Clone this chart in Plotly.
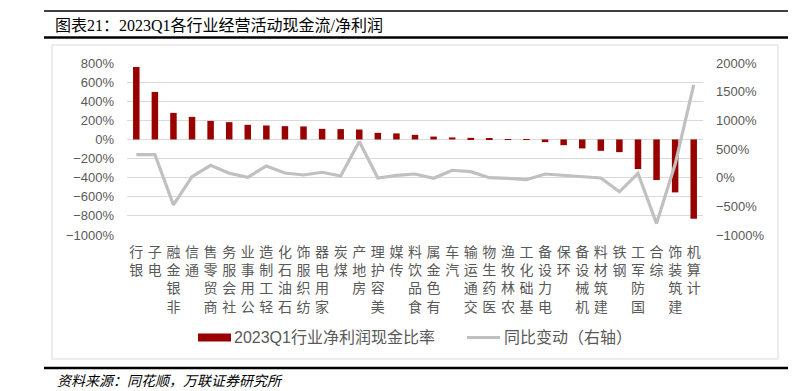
import plotly.graph_objects as go

categories = ["银行", "电子", "非银金融", "通信", "商贸零售", "社会服务", "公用事业", "轻工制造",
              "石油石化", "纺织服饰", "家用电器", "煤炭", "房地产", "美容护理", "传媒", "食品饮料",
              "有色金属", "汽车", "交通运输", "医药生物", "农林牧渔", "基础化工", "电力设备", "环保",
              "机械设备", "建筑材料", "钢铁", "国防军工", "综合", "建筑装饰", "计算机"]
ratio_2023q1 = [758, 497, 278, 236, 194, 181, 153, 146, 139, 136, 111, 108, 104, 69, 63, 48,
                30, 21, 17, 5, 3, 2, -28, -60, -94, -119, -133, -310, -425, -554, -830]
yoy_change = [403, 403, -474, 18, 216, 76, 6, 205, 82, 47, 94, 29, 632, -6, 41, 64,
              -10, 129, 105, 0, -12, -35, 64, 41, 29, -6, -246, 76, -801, 234, 1620]
left_ticks = list(range(-1000, 801, 200))
right_ticks = list(range(-1000, 2001, 500))

W, H = 809, 391
L, R, T, B = 127, 703, 63, 235


def px(x):
    return (x - L) / (R - L)


def py(y):
    return (B - y) / (B - T)


tick_text = ["<br>".join(reversed(list(c))) for c in categories]

fig = go.Figure()
fig.add_trace(go.Bar(x=categories, y=ratio_2023q1, marker=dict(color="#990000", line_width=0),
                     name="2023Q1行业净利润现金比率", yaxis="y", showlegend=False))
fig.add_trace(go.Scatter(x=categories, y=yoy_change, mode="lines",
                         line=dict(color="#c0c0c0", width=3.2),
                         name="同比变动（右轴）", yaxis="y2", showlegend=False))

sans = "Liberation Sans, Arial, Noto Sans CJK SC"
serif = "Liberation Serif, Times New Roman, Noto Sans CJK SC"

shapes = []


def hline(y, x0, x1, w, color="black"):
    shapes.append(dict(type="line", xref="paper", yref="paper", x0=px(x0), x1=px(x1),
                       y0=py(y), y1=py(y), line=dict(color=color, width=w)))


hline(11, 44, 788, 1.6)
hline(37.5, 44, 788, 2.4)
hline(368, 44, 788, 2.4)
shapes.append(dict(type="rect", xref="paper", yref="paper", x0=px(52), x1=px(778),
                   y0=py(359), y1=py(45), line=dict(color="#d9d9d9", width=1), layer="below"))
shapes.append(dict(type="rect", xref="paper", yref="paper", x0=px(198), x1=px(231),
                   y0=py(341.5), y1=py(333.5), fillcolor="#990000", line_width=0))
hline(337.5, 467, 500, 3.2, "#c0c0c0")

annotations = [
    dict(text="图表21：2023Q1各行业经营活动现金流/净利润", xref="paper", yref="paper",
         x=px(53), y=py(25), xanchor="left", yanchor="middle", showarrow=False,
         font=dict(family=serif, size=16, color="black")),
    dict(text="资料来源：同花顺，万联证券研究所", xref="paper", yref="paper",
         x=px(55), y=py(381), xanchor="left", yanchor="middle", showarrow=False,
         font=dict(family=serif, size=14, color="black", style="italic")),
    dict(text="2023Q1行业净利润现金比率", xref="paper", yref="paper",
         x=px(232), y=py(337.5), xanchor="left", yanchor="middle", showarrow=False,
         font=dict(family=sans, size=16, color="#595959")),
    dict(text="同比变动（右轴）", xref="paper", yref="paper",
         x=px(502), y=py(337.5), xanchor="left", yanchor="middle", showarrow=False,
         font=dict(family=sans, size=16, color="#595959")),
]

fig.update_layout(
    width=W, height=H,
    margin=dict(l=L, r=W - R, t=T, b=H - B, pad=0),
    paper_bgcolor="white", plot_bgcolor="white",
    bargap=0.65,
    showlegend=False,
    font=dict(family=sans, color="#595959"),
    xaxis=dict(tickmode="array", tickvals=categories, ticktext=tick_text, tickangle=0,
               tickfont=dict(size=14, color="#595959", family="Noto Sans CJK SC"),
               showgrid=False, showline=False, zeroline=False, ticks="",
               ticklabelstandoff=7),
    yaxis=dict(range=[-1000, 800], tickvals=left_ticks, ticktext=[f"{v}%".replace("-", "−") for v in left_ticks],
               showgrid=True, gridcolor="#d9d9d9", gridwidth=1, zeroline=False, showline=False,
               tickfont=dict(size=13, color="#595959", family=sans), ticks="",
               ticklabelstandoff=12),
    yaxis2=dict(range=[-1000, 2000], tickvals=right_ticks, ticktext=[f"{v}%".replace("-", "−") for v in right_ticks],
                overlaying="y", side="right", showgrid=False, zeroline=False, showline=False,
                tickfont=dict(size=13, color="#595959", family=sans), ticks="",
                ticklabelstandoff=12),
    shapes=shapes,
    annotations=annotations,
)

fig.write_html("out.html",
               config={"displayModeBar": False},
               post_script="document.body.style.margin='0';document.body.style.overflow='hidden';")
